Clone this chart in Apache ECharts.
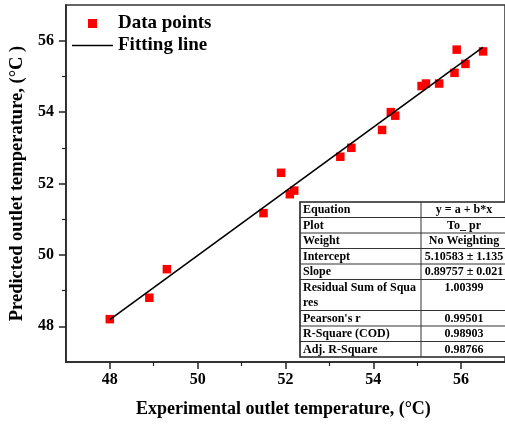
<!DOCTYPE html>
<html>
<head>
<meta charset="utf-8">
<script src="https://cdn.jsdelivr.net/npm/echarts@6/dist/echarts.min.js"></script>
<style>
  html, body { margin: 0; padding: 0; background: #fff; }
  #chart { width: 505px; height: 425px; }
</style>
</head>
<body>
<div id="chart"></div>
<script>
// Experimental vs. predicted outlet temperature (°C)
const experimental = [48.0, 48.9, 49.3, 51.5, 51.9, 52.1, 52.2, 53.25, 53.5, 54.2, 54.4, 54.5, 55.1, 55.2, 55.5, 55.85, 55.9, 56.1, 56.5];
const predicted    = [48.2, 48.8, 49.6, 51.17, 52.3, 51.7, 51.8, 52.75, 53.0, 53.5, 54.0, 53.9, 54.73, 54.8, 54.8, 55.1, 55.75, 55.35, 55.7];

// Linear fit y = a + b*x
const intercept = 5.10583;
const slope = 0.89757;

// Axis ticks
const majorTicks = [48, 50, 52, 54, 56];
const minorTicks = [49, 51, 53, 55];
const axisMin = 47, axisMax = 57;

// Fit statistics table
const statNames = ['Equation', 'Plot', 'Weight', 'Intercept', 'Slope', 'Residual Sum of Squa\nres', "Pearson's r", 'R-Square (COD)', 'Adj. R-Square'];
const statValues = ['y = a + b*x', 'To_ pr', 'No Weighting', intercept.toFixed(5) + ' \u00b1 1.135', slope.toFixed(5) + ' \u00b1 0.021', '1.00399', '0.99501', '0.98903', '0.98766'];

const seriesNames = ['Data points', 'Fitting line'];

const serif = "'Liberation Serif', 'Times New Roman', serif";

const points = experimental.map((x, i) => [x, predicted[i]]);
const xLo = Math.min(...experimental), xHi = Math.max(...experimental);
const fitLine = [[xLo, intercept + slope * xLo], [xHi, intercept + slope * xHi]];

// Table drawing
function buildTable() {
  const left = 300, top = 202, split = 421, right = 507, rowH = 15.5;
  const els = [];
  const units = statNames.map(n => n.split('\n').length);
  const total = units.reduce((a, b) => a + b, 0) * rowH;
  els.push({ type: 'rect', shape: { x: left, y: top, width: right - left, height: total },
    style: { fill: '#fff', stroke: '#222', lineWidth: 1.6 }, z: 100 });
  els.push({ type: 'line', shape: { x1: split, y1: top, x2: split, y2: top + total },
    style: { stroke: '#333', lineWidth: 1 }, z: 101 });
  let y = top;
  statNames.forEach((name, i) => {
    const lines = name.split('\n');
    lines.forEach((ln, k) => {
      els.push({ type: 'text', z: 102, style: { text: ln, x: left + 3, y: y + rowH * k + rowH / 2 + 0.5,
        verticalAlign: 'middle', align: 'left', font: 'bold 12px ' + serif, fill: '#000' } });
    });
    els.push({ type: 'text', z: 102, style: { text: statValues[i], x: (split + right) / 2, y: y + rowH / 2 + 0.5,
      verticalAlign: 'middle', align: 'center', font: 'bold 12px ' + serif, fill: '#000' } });
    y += lines.length * rowH;
    if (i < statNames.length - 1) {
      els.push({ type: 'line', shape: { x1: left, y1: y, x2: right, y2: y },
        style: { stroke: '#333', lineWidth: 1 }, z: 101 });
    }
  });
  return els;
}

const chart = echarts.init(document.getElementById('chart'), null, { renderer: 'canvas' });

const axisLine = { show: true, lineStyle: { color: '#222', width: 1.5 } };

chart.setOption({
  animation: false,
  backgroundColor: '#fff',
  grid: { left: 62, top: 5, right: -9, bottom: 63, show: true, borderColor: '#333', borderWidth: 1.5, backgroundColor: '#fff' },
  legend: {
    orient: 'vertical', left: 67, top: 9, itemWidth: 41, itemHeight: 9, itemGap: 3,
    textStyle: { fontFamily: serif, fontWeight: 'bold', fontSize: 19, color: '#000', lineHeight: 19 },
    data: [
      { name: seriesNames[0], icon: 'path://M0,0h10v10h-10z' },
      { name: seriesNames[1], icon: 'path://M0,0h40v1.6h-40z' }
    ]
  },
  xAxis: [
    {
      type: 'value', min: axisMin, max: axisMax,
      name: 'Experimental outlet temperature, (\u00b0C)', nameLocation: 'middle', nameGap: 38,
      nameTextStyle: { fontFamily: serif, fontWeight: 'bold', fontSize: 18, color: '#000', padding: [0, 4, 0, 0] },
      axisLine: axisLine,
      axisTick: { show: true, inside: false, length: 7, customValues: majorTicks, lineStyle: { color: '#222', width: 1.5 } },
      axisLabel: { customValues: majorTicks, margin: 10, fontFamily: serif, fontWeight: 'bold', fontSize: 16, color: '#000' },
      splitLine: { show: false }
    },
    {
      type: 'value', min: axisMin, max: axisMax, position: 'bottom',
      axisLine: { show: false },
      axisTick: { show: true, inside: false, length: 4, customValues: minorTicks, lineStyle: { color: '#222', width: 1.2 } },
      axisLabel: { show: false },
      splitLine: { show: false }
    }
  ],
  yAxis: [
    {
      type: 'value', min: axisMin, max: axisMax,
      name: 'Predicted outlet temperature, (\u00b0C )', nameLocation: 'middle', nameGap: 32,
      nameTextStyle: { fontFamily: serif, fontWeight: 'bold', fontSize: 18.5, color: '#000' },
      axisLine: axisLine,
      axisTick: { show: true, inside: false, length: 7, customValues: majorTicks, lineStyle: { color: '#222', width: 1.5 } },
      axisLabel: { customValues: majorTicks, margin: 12, fontFamily: serif, fontWeight: 'bold', fontSize: 16, color: '#000' },
      splitLine: { show: false }
    },
    {
      type: 'value', min: axisMin, max: axisMax, position: 'left',
      axisLine: { show: false },
      axisTick: { show: true, inside: false, length: 4, customValues: minorTicks, lineStyle: { color: '#222', width: 1.2 } },
      axisLabel: { show: false },
      splitLine: { show: false }
    }
  ],
  series: [
    {
      name: seriesNames[0], type: 'scatter', xAxisIndex: 0, yAxisIndex: 0,
      data: points, symbol: 'rect', symbolSize: 8.5,
      itemStyle: { color: '#ff0000', opacity: 1 }, z: 3
    },
    {
      name: seriesNames[1], type: 'line', xAxisIndex: 0, yAxisIndex: 0,
      data: fitLine, showSymbol: false, symbol: 'none',
      lineStyle: { color: '#000', width: 1.6 }, itemStyle: { color: '#000' }, z: 4
    }
  ],
  graphic: buildTable()
});
</script>
</body>
</html>
